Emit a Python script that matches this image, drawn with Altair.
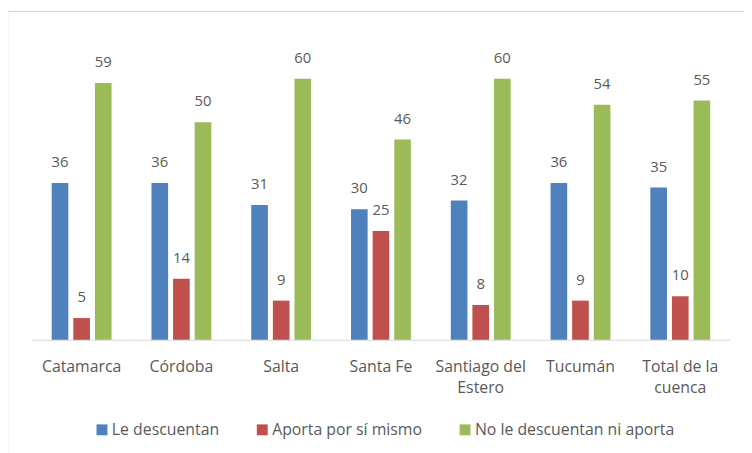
import altair as alt
import pandas as pd

provincias = ["Catamarca", "Córdoba", "Salta", "Santa Fe", "Santiago del Estero", "Tucumán", "Total de la cuenca"]
series = ["Le descuentan", "Aporta por sí mismo", "No le descuentan ni aporta"]
le_descuentan = [36, 36, 31, 30, 32, 36, 35]
aporta = [5, 14, 9, 25, 8, 9, 10]
no_aporta = [59, 50, 60, 46, 60, 54, 55]
colores = ["#4F81BD", "#C0504D", "#9BBB59"]

rows = []
for i, p in enumerate(provincias):
    for s, vals in zip(series, [le_descuentan, aporta, no_aporta]):
        rows.append({"provincia": p, "serie": s, "valor": vals[i]})
df = pd.DataFrame(rows)

FONT = "Open Sans"
GREY = "#595959"

x = alt.X("provincia:N", sort=provincias, title=None,
          scale=alt.Scale(paddingInner=0.4, paddingOuter=0.2),
          axis=alt.Axis(labelAngle=0, ticks=False, domainColor="#D9D9D9", domainWidth=1,
                        labelFont=FONT, labelFontSize=16, labelColor=GREY, labelPadding=19,
                        labelLineHeight=21, labelBaseline="top", labelLimit=200,
                        labelExpr="datum.value == 'Santiago del Estero' ? ['Santiago del', 'Estero'] : datum.value == 'Total de la cuenca' ? ['Total de la', 'cuenca'] : datum.value"))
xo = alt.XOffset("serie:N", sort=series, scale=alt.Scale(paddingInner=0.23, paddingOuter=0))
y = alt.Y("valor:Q", scale=alt.Scale(domain=[0, 70]), axis=None)

bars = alt.Chart(df).mark_bar().encode(
    x=x, xOffset=xo, y=y,
    color=alt.Color("serie:N", sort=series,
                    scale=alt.Scale(domain=series, range=colores),
                    legend=alt.Legend(title=None, orient="none", legendX=63, legendY=391,
                                      direction="horizontal", symbolType="square",
                                      symbolSize=121, symbolStrokeWidth=0,
                                      labelFont=FONT, labelFontSize=16, labelColor=GREY,
                                      labelOffset=2, columnPadding=35, labelLimit=400)),
)

labels = alt.Chart(df).mark_text(baseline="alphabetic", dy=-16, font=FONT, fontSize=15, color=GREY).encode(
    x=x, xOffset=xo, y=y, text="valor:Q"
)

frame_df = pd.DataFrame({"k": [0]})
left_border = alt.Chart(frame_df).mark_rule(color="#D9D9D9", strokeWidth=1.5).encode(
    x=alt.value(-24.5), y=alt.value(-24), y2=alt.value(430)
)
top_border = alt.Chart(frame_df).mark_rule(color="#D9D9D9", strokeWidth=1.5).encode(
    x=alt.value(-24.5), x2=alt.value(740), y=alt.value(-24)
)

chart = alt.layer(left_border, top_border, bars, labels).properties(
    width=706, height=308,
    background="white",
    autosize=alt.AutoSizeParams(type="none"),
    padding={"left": 24, "top": 25, "right": 14, "bottom": 112},
).configure_view(stroke=None)

chart.save("out.html", embed_options={"renderer": "svg", "actions": False})
